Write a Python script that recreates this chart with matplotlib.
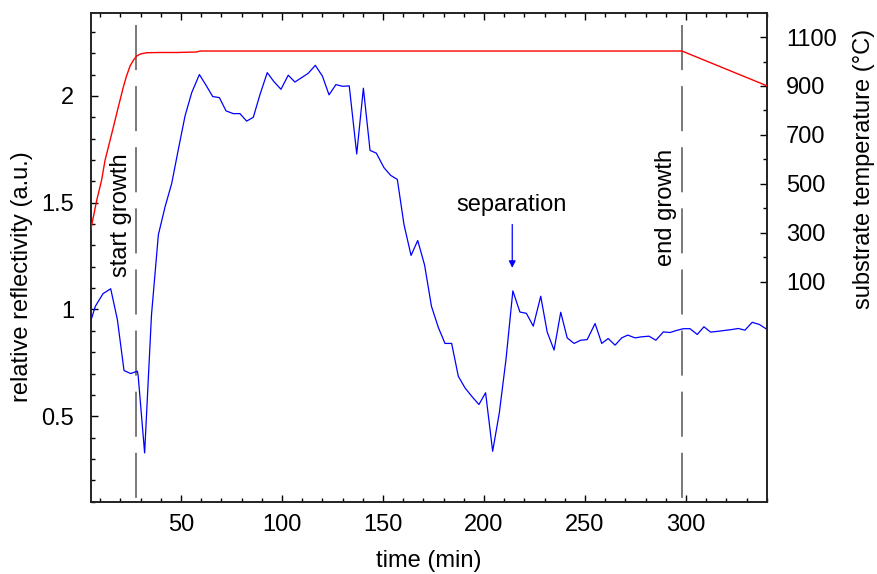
import matplotlib
matplotlib.use("Agg")
import matplotlib.pyplot as plt
from matplotlib.ticker import MultipleLocator, FixedLocator

plt.rcParams['font.family'] = ['Liberation Sans', 'DejaVu Sans']

# reflectivity (blue) series
time_refl = [5.3, 7.6, 11.4, 15.2, 18.5, 21.8, 25.1, 28.4, 28.8, 32.0, 35.4, 38.8, 42.1, 45.4,
             48.7, 52.0, 55.3, 59.1, 62.4, 65.7, 69.0, 72.3, 75.9, 79.2, 82.5, 85.8, 89.1,
             92.7, 96.0, 99.5, 103.1, 106.4, 109.8, 113.0, 116.5, 120.0, 123.3, 126.7, 130.0,
             133.3, 137.0, 140.3, 143.6, 146.7, 150.5, 153.8, 157.1, 160.4, 163.9, 167.2,
             170.6, 174.0, 177.4, 180.7, 184.0, 187.3, 190.6, 193.9, 197.5, 200.8, 204.3,
             207.6, 210.9, 214.3, 217.8, 221.0, 224.4, 228.1, 231.3, 234.7, 238.0, 241.2,
             244.6, 247.9, 251.1, 255.0, 258.3, 261.5, 264.9, 268.2, 271.2, 274.8, 278.1,
             281.7, 285.1, 288.8, 292.1, 295.4, 298.7, 302.0, 305.6, 308.9, 312.2, 316.0,
             319.3, 322.6, 325.9, 329.2, 332.8, 336.3, 339.6]
reflectivity = [0.945, 1.015, 1.074, 1.097, 0.953, 0.714, 0.700, 0.711, 0.690, 0.328, 0.975,
                1.350, 1.480, 1.590, 1.750, 1.906, 2.015, 2.100, 2.050, 1.997, 1.992, 1.930,
                1.917, 1.917, 1.882, 1.900, 2.006, 2.109, 2.067, 2.031, 2.097, 2.065, 2.086,
                2.106, 2.143, 2.093, 2.005, 2.053, 2.045, 2.047, 1.728, 2.036, 1.745, 1.732,
                1.664, 1.628, 1.609, 1.398, 1.253, 1.323, 1.208, 1.015, 0.916, 0.841, 0.841,
                0.687, 0.633, 0.594, 0.555, 0.610, 0.336, 0.516, 0.766, 1.087, 0.988, 0.982,
                0.922, 1.062, 0.894, 0.810, 0.987, 0.867, 0.841, 0.856, 0.859, 0.934, 0.841,
                0.864, 0.833, 0.867, 0.880, 0.867, 0.872, 0.875, 0.856, 0.895, 0.892, 0.902,
                0.910, 0.910, 0.883, 0.919, 0.894, 0.898, 0.902, 0.906, 0.911, 0.903, 0.940,
                0.930, 0.910]

# substrate temperature (red) series
time_temp = [3.0, 5.3, 8.3, 10.7, 12.4, 14.5, 16.5, 19.0, 21.4, 23.0, 24.8, 26.5, 28.1,
             30.0, 33.0, 40.0, 47.9, 57.8, 59.4, 100.0, 200.0, 298.0, 340.0]
temperature = [230, 311, 433, 515, 596, 665, 731, 815, 894, 940, 982, 1006, 1023,
               1031, 1036, 1037, 1037, 1039, 1043, 1043, 1043, 1043, 901]

# event markers
event_times = [27.6, 298.0]
event_labels = ['start growth', 'end growth']
event_label_x = [20.3, 290.0]
event_label_y = [1.44, 1.476]

x_ticks = [50, 100, 150, 200, 250, 300]
left_ticks = [0.5, 1.0, 1.5, 2.0]
left_ticklabels = ['0.5', '1', '1.5', '2']
right_ticks = [100, 300, 500, 700, 900, 1100]

FS = 17

fig = plt.figure(figsize=(8.78, 5.74), dpi=100)
ax = fig.add_axes([0.1033, 0.126, 0.77, 0.852])
ax2 = ax.twinx()

ax.set_xlim(5.3, 340.0)
ax.set_ylim(0.1, 2.39)
ax2.set_ylim(-800, 1200)

# dashed event lines
for t in event_times:
    ax.plot([t, t], [2.33, 0.1], color='#555555', lw=1.1,
            dashes=(29.5, 10.5), zorder=1)

ax.plot(time_refl, reflectivity, color='#0000ff', lw=0.9, zorder=3)
ax2.plot(time_temp, temperature, color='#ff0000', lw=1.0, zorder=3)

for lbl, lx, ly in zip(event_labels, event_label_x, event_label_y):
    ax.text(lx, ly, lbl, rotation=90, ha='center', va='center', fontsize=FS)

ax.text(213.9, 1.49, 'separation', ha='center', va='center', fontsize=FS)
ax.annotate('', xy=(214.0, 1.195), xytext=(214.0, 1.398),
            arrowprops=dict(arrowstyle='-|>', color='#0000ff', lw=0.9,
                            mutation_scale=10, shrinkA=0, shrinkB=0))

ax.xaxis.set_major_locator(FixedLocator(x_ticks))
ax.xaxis.set_minor_locator(MultipleLocator(10))
ax.yaxis.set_major_locator(FixedLocator(left_ticks))
ax.set_yticklabels(left_ticklabels)
ax.yaxis.set_minor_locator(MultipleLocator(0.1))
ax.tick_params(axis='both', which='both', direction='in', top=True, right=False,
               labelsize=FS, width=1.0)
ax.tick_params(axis='both', which='major', length=5)
ax.tick_params(axis='both', which='minor', length=3)
ax.tick_params(axis='x', pad=9)
ax.tick_params(axis='y', pad=12)

ax2.yaxis.set_major_locator(FixedLocator(right_ticks))
ax2.yaxis.set_minor_locator(FixedLocator([200, 400, 600, 800, 1000]))
ax2.tick_params(axis='y', which='both', direction='in', labelsize=FS, width=1.0, pad=14)
ax2.tick_params(axis='y', which='major', length=5)
ax2.tick_params(axis='y', which='minor', length=3)

for a in (ax, ax2):
    for s in a.spines.values():
        s.set_linewidth(1.2)
        s.set_color('#222222')

ax.set_xlabel('time (min)', fontsize=FS)
ax.set_ylabel('relative reflectivity (a.u.)', fontsize=FS)
ax2.set_ylabel('substrate temperature (°C)', fontsize=FS)
ax.xaxis.set_label_coords(0.5, -0.099)
ax.yaxis.set_label_coords(-0.086, 0.46)
ax2.yaxis.set_label_coords(1.128, 0.68)

fig.savefig('out.png', dpi=100)
